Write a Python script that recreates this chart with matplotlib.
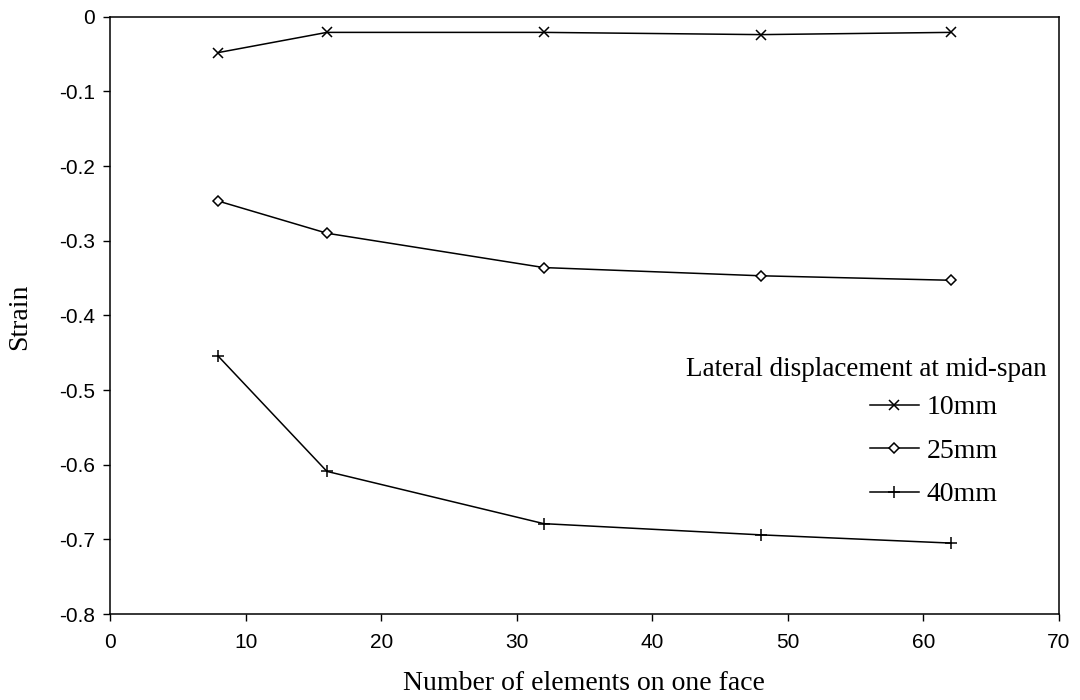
# --- strain vs mesh density ---
# Strain at mid-span for three lateral displacements,
# plotted against the number of elements on one face

import matplotlib.pyplot as plt
import numpy as np

plt.rcParams['axes.unicode_minus'] = False

# number of elements on one face
elements = [8, 16, 32, 48, 62]

# strain for each lateral displacement
strain_10mm = [-0.048, -0.021, -0.021, -0.024, -0.021]
strain_25mm = [-0.247, -0.290, -0.336, -0.347, -0.353]
strain_40mm = [-0.455, -0.609, -0.679, -0.694, -0.705]

series_labels = ['10mm', '25mm', '40mm']

x_ticks = [0, 10, 20, 30, 40, 50, 60, 70]
y_ticks = [0, -0.1, -0.2, -0.3, -0.4, -0.5, -0.6, -0.7, -0.8]
y_tick_labels = ['0', '-0.1', '-0.2', '-0.3', '-0.4', '-0.5', '-0.6', '-0.7', '-0.8']

serif = ['Liberation Serif', 'DejaVu Serif']
sans = ['Liberation Sans', 'DejaVu Sans']

fig = plt.figure(figsize=(10.8, 7.0), dpi=100)
ax = fig.add_axes([110 / 1080, 1 - 614 / 700, (1059 - 110) / 1080, (614 - 16.7) / 700])

styles = [
    dict(marker='x', markersize=7, mew=1.1),
    dict(marker='D', markersize=5.5, mew=1.1, mfc='white'),
    dict(marker='+', markersize=9, mew=1.1),
]
for vals, lab, st in zip([strain_10mm, strain_25mm, strain_40mm], series_labels, styles):
    ax.plot(elements, vals, color='black', lw=1.1, label=lab, **st)

ax.set_xlim(0, 70)
ax.set_ylim(-0.8, 0)
ax.set_xticks(x_ticks)
ax.set_xticklabels([str(t) for t in x_ticks], family=sans, fontsize=15)
ax.set_yticks(y_ticks)
ax.set_yticklabels(y_tick_labels, family=sans, fontsize=15)
ax.tick_params(direction='out', length=5, width=1, pad=6)
ax.tick_params(axis='x', pad=9)
for sp in ax.spines.values():
    sp.set_linewidth(1.1)

fig.text(20 / 1080, 1 - 317 / 700, 'Strain', rotation=90, ha='center', va='center',
         family=serif, fontsize=20)
fig.text(584 / 1080, 1 - 683 / 700, 'Number of elements on one face', ha='center', va='center',
         family=serif, fontsize=20)

fig.text(1047 / 1080, 1 - 369 / 700, 'Lateral displacement at mid-span', ha='right', va='center',
         family=serif, fontsize=19.5)
ax.legend(loc='upper left', bbox_to_anchor=(856 / 1080, 1 - 381 / 700),
          bbox_transform=fig.transFigure, frameon=False, borderpad=0,
          handlelength=1.75, handletextpad=0.3, labelspacing=0.65,
          prop={'family': serif, 'size': 20})

fig.savefig('out.png', dpi=100)
